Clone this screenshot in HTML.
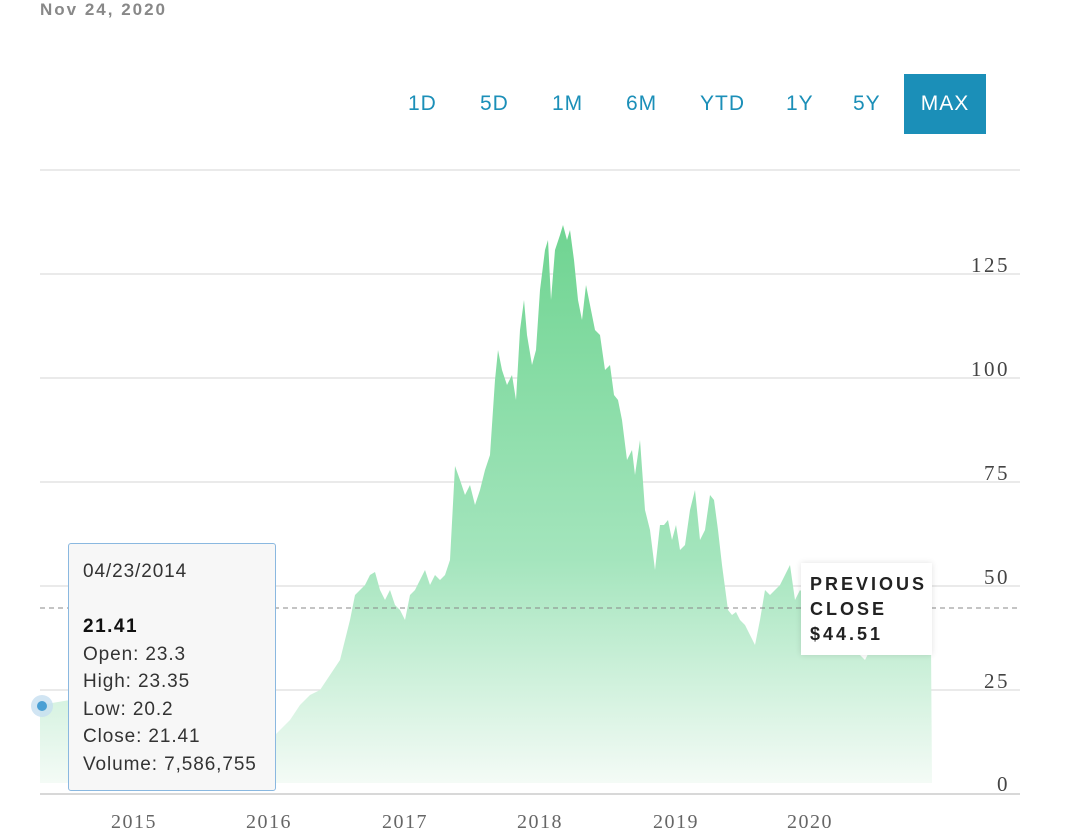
<!DOCTYPE html>
<html><head><meta charset="utf-8"><style>
body{margin:0;width:1080px;height:837px;background:#fff;font-family:"Liberation Sans",sans-serif;position:relative;overflow:hidden}
.abs{position:absolute}
.btn{position:absolute;top:92px;color:#1b8fb8;font-size:21px;letter-spacing:1px}
</style></head><body>
<div class="abs" style="left:40px;top:0;color:#888;font-size:17px;font-weight:bold;letter-spacing:2px">Nov 24, 2020</div>
<div class="btn" style="left:408px">1D</div>
<div class="btn" style="left:480px">5D</div>
<div class="btn" style="left:552px">1M</div>
<div class="btn" style="left:626px">6M</div>
<div class="btn" style="left:700px">YTD</div>
<div class="btn" style="left:786px">1Y</div>
<div class="btn" style="left:853px">5Y</div>
<div class="abs" style="left:904px;top:74px;width:82px;height:60px;background:#1b8fb8;color:#fff;font-size:21px;line-height:60px;text-align:center;letter-spacing:1px">MAX</div>
<svg class="abs" style="left:0;top:0" width="1080" height="837">
<defs><linearGradient id="g" x1="0" y1="0" x2="0" y2="1"><stop offset="0" stop-color="#6fd491"/><stop offset="0.6" stop-color="#a4e5bd"/><stop offset="1" stop-color="#f4fbf6"/></linearGradient></defs>
<g stroke="#ddd" stroke-width="1.3">
<line x1="40" x2="1020" y1="170" y2="170"/><line x1="40" x2="1020" y1="274" y2="274"/><line x1="40" x2="1020" y1="378" y2="378"/><line x1="40" x2="1020" y1="482" y2="482"/><line x1="40" x2="1020" y1="586" y2="586"/><line x1="40" x2="1020" y1="690" y2="690"/></g>
<path fill="url(#g)" d="M40,783 L40,705 L70,700 L100,705 L130,700 L160,712 L190,708 L220,715 L250,725 L275,735 L280,730 L290,720 L300,705 L310,695 L320,690 L330,675 L340,660 L350,620 L355,595 L360,590 L365,585 L370,575 L375,572 L380,590 L385,600 L390,590 L395,605 L400,610 L405,620 L410,595 L415,590 L420,580 L425,570 L430,585 L435,575 L440,580 L445,575 L450,560 L455,466 L460,480 L465,495 L470,485 L475,505 L480,490 L485,470 L490,455 L495,380 L498,350 L502,370 L507,385 L512,375 L516,400 L520,330 L524,300 L527,335 L532,365 L536,350 L540,290 L545,250 L548,240 L551,300 L555,250 L560,235 L563,225 L567,240 L570,230 L574,260 L578,300 L582,320 L586,285 L590,305 L595,330 L600,335 L605,370 L610,365 L614,395 L618,400 L622,420 L627,460 L632,450 L635,475 L640,440 L645,510 L650,530 L655,570 L660,525 L664,525 L668,520 L672,540 L676,525 L680,550 L685,545 L690,510 L695,490 L700,540 L705,530 L710,495 L714,500 L718,530 L722,565 L728,610 L732,615 L736,612 L740,620 L745,625 L750,635 L755,645 L760,620 L765,590 L770,595 L775,590 L780,585 L785,575 L790,565 L795,600 L800,590 L820,610 L840,630 L860,655 L865,660 L870,650 L880,645 L900,640 L920,640 L931,645 L932,783 Z"/>
<line x1="40" x2="1020" y1="794" y2="794" stroke="#ccc" stroke-width="1.5"/>
<line x1="40" x2="1020" y1="608" y2="608" stroke="#888" stroke-width="1" stroke-dasharray="5,4"/>
<g font-family="Liberation Serif,serif" font-size="21" fill="#444" text-anchor="end" letter-spacing="2.5">
<text x="1010" y="272">125</text><text x="1010" y="376">100</text><text x="1010" y="480">75</text><text x="1010" y="584">50</text><text x="1010" y="688">25</text><text x="1010" y="791">0</text></g>
<g font-family="Liberation Serif,serif" font-size="20" fill="#666" text-anchor="middle" letter-spacing="1.5">
<text x="134" y="828">2015</text><text x="269" y="828">2016</text><text x="405" y="828">2017</text><text x="540" y="828">2018</text><text x="676" y="828">2019</text><text x="810" y="828">2020</text></g>
<circle cx="42" cy="706" r="11" fill="#c5def0" opacity="0.8"/><circle cx="42" cy="706" r="5" fill="#4a9fd4"/>
</svg>
<div class="abs" style="left:68px;top:543px;width:208px;height:248px;background:#f7f7f7;border:1.5px solid #8ab8e0;border-radius:3px;font-size:19px;color:#333;line-height:27.5px;box-sizing:border-box;padding:14px 0 0 14px;letter-spacing:0.9px;white-space:nowrap">
04/23/2014<br><br><b style="letter-spacing:1.5px;color:#111">21.41</b><br>Open: 23.3<br>High: 23.35<br>Low: 20.2<br>Close: 21.41<br>Volume: 7,586,755</div>
<div class="abs" style="left:801px;top:563px;width:131px;height:92px;background:#fff;box-shadow:0 0 6px rgba(0,0,0,0.12);font-size:18px;font-weight:bold;color:#222;letter-spacing:3px;line-height:25px;padding:9px 0 0 9px;box-sizing:border-box">PREVIOUS<br>CLOSE<br>$44.51</div>
</body></html>
